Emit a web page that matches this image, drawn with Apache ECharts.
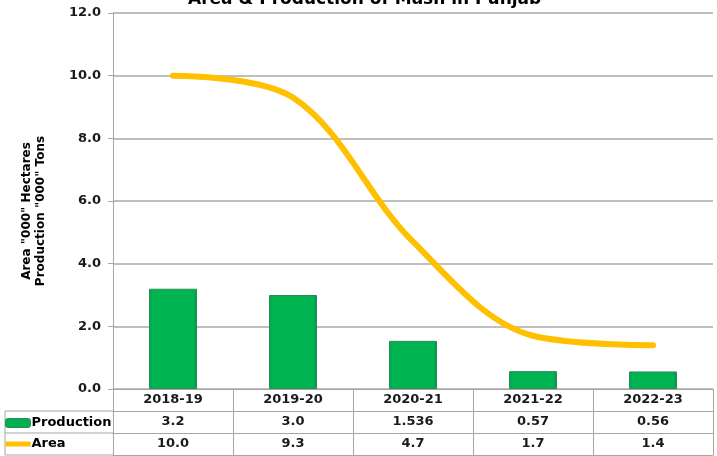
<!DOCTYPE html>
<html><head><meta charset="utf-8">
<script src="https://cdn.jsdelivr.net/npm/echarts@6/dist/echarts.min.js"></script>
<style>html,body{margin:0;padding:0;background:#fff}#c{width:717px;height:456px}</style>
</head><body><div id="c"></div>
<script>
const categories = ['2018-19','2019-20','2020-21','2021-22','2022-23'];
const production = [3.2, 3.0, 1.536, 0.57, 0.56];
const productionLabels = ['3.2','3.0','1.536','0.57','0.56'];
const area = [10.0, 9.3, 4.7, 1.7, 1.4];
const areaLabels = ['10.0','9.3','4.7','1.7','1.4'];
const yTicks = {min: 0, max: 12, interval: 2};

const G = {left: 113, right: 4, top: 13, bottom: 67, W: 717, H: 456};
const ROW = 22;
const F = 'DejaVu Sans, Verdana, sans-serif';
const gray = '#A6A6A6';
const bottomY = G.H - G.bottom;

const chart = echarts.init(document.getElementById('c'));
const tableAxis = (data, off, showLine) => ({
  type: 'category', data: data, position: 'bottom', offset: off, gridIndex: 0,
  axisLine: {show: showLine, lineStyle: {color: gray, width: 1}},
  axisTick: {show: false},
  axisLabel: {show: true, margin: 4, fontFamily: F, fontWeight: 'bold', fontSize: 13, color: '#1a1a1a', interval: 0},
  splitLine: {show: false}
});
chart.setOption({
  animation: false,
  textStyle: {fontFamily: F},
  title: {text: 'Area & Production of Mash in Punjab', left: 188, top: -9, padding: 0,
    textStyle: {fontFamily: F, fontWeight: 'bold', fontSize: 17, color: '#000'}},
  grid: {left: G.left, right: G.right, top: G.top, bottom: G.bottom, containLabel: false},
  legend: {
    orient: 'vertical', left: 5, top: 416, height: 60, padding: 0, itemGap: 7, itemWidth: 25, itemHeight: 9,
    symbolKeepAspect: true,
    textStyle: {fontFamily: F, fontWeight: 'bold', fontSize: 13, color: '#000', lineHeight: 14, padding: [0,0,0,-4]},
    data: [
      {name: 'Production', icon: 'roundRect', itemStyle: {color: '#00B050', borderColor: '#2E8B57', borderWidth: 1}},
      {name: 'Area', icon: 'path://M0,0h25v5h-25z', itemStyle: {color: '#FFC000', borderWidth: 0}}
    ]
  },
  xAxis: [
    {type: 'category', data: categories, position: 'bottom',
      axisLine: {show: true, lineStyle: {color: gray}},
      axisTick: {show: true, alignWithLabel: false, interval: 0, length: ROW * 3, lineStyle: {color: gray}},
      axisLabel: {margin: 4, fontFamily: F, fontWeight: 'bold', fontSize: 13, color: '#1a1a1a', interval: 0}},
    tableAxis(productionLabels, ROW, true),
    tableAxis(areaLabels, ROW * 2, true),
    Object.assign(tableAxis(categories, ROW * 3, true), {axisLabel: {show: false}})
  ],
  yAxis: {
    type: 'value', min: yTicks.min, max: yTicks.max, interval: yTicks.interval,
    name: 'Area "000" Hectares\nProduction "000" Tons', nameLocation: 'middle', nameGap: 65, nameRotate: 90,
    nameTextStyle: {fontFamily: F, fontWeight: 'bold', fontSize: 12, color: '#000', lineHeight: 14, padding: [0, 20, 0, 0]},
    axisLine: {show: true, lineStyle: {color: gray}},
    axisTick: {show: true, length: 5, lineStyle: {color: gray}},
    axisLabel: {formatter: v => v.toFixed(1), fontFamily: F, fontWeight: 'bold', fontSize: 13, color: '#1a1a1a', margin: 12},
    splitLine: {show: true, lineStyle: {color: '#BFBFBF', width: 2}}
  },
  series: [
    {name: 'Production', type: 'bar', data: production, barWidth: 48,
      itemStyle: {
        color: new echarts.graphic.LinearGradient(0, 0, 1, 0, [
          {offset: 0, color: '#00A84A'}, {offset: 0.08, color: '#00B452'},
          {offset: 0.92, color: '#00B452'}, {offset: 1, color: '#00994A'}]),
        borderColor: '#2E8B57', borderWidth: 1
      }},
    {name: 'Area', type: 'line', data: area, smooth: 0.35, symbol: 'none',
      lineStyle: {color: '#FFC000', width: 6, cap: 'round'}, itemStyle: {color: '#FFC000'}, z: 5}
  ],
  graphic: [
    {type: 'line', shape: {x1: 5, y1: bottomY + ROW, x2: G.left, y2: bottomY + ROW}, style: {stroke: gray, lineWidth: 1}},
    {type: 'line', shape: {x1: 5, y1: bottomY + ROW * 2, x2: G.left, y2: bottomY + ROW * 2}, style: {stroke: gray, lineWidth: 1}},
    {type: 'line', shape: {x1: 5, y1: bottomY + ROW * 3, x2: G.left, y2: bottomY + ROW * 3}, style: {stroke: gray, lineWidth: 1}},
    {type: 'line', shape: {x1: 5, y1: bottomY + ROW, x2: 5, y2: bottomY + ROW * 3}, style: {stroke: gray, lineWidth: 1}}
  ]
});
</script></body></html>
